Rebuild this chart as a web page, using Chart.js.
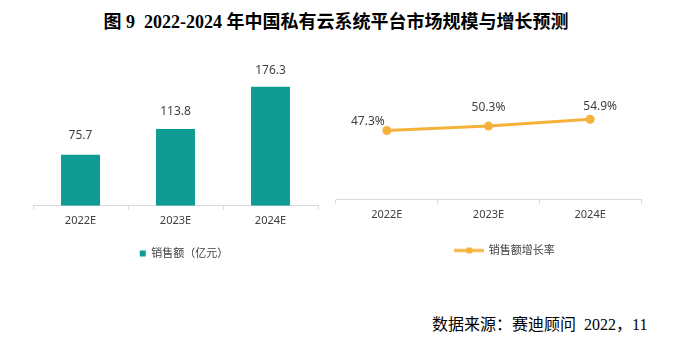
<!DOCTYPE html>
<html>
<head>
<meta charset="utf-8">
<script src="https://cdn.jsdelivr.net/npm/chart.js@4.4.0/dist/chart.umd.min.js"></script>
<style>
	body { margin: 0; background: #fff; width: 688px; height: 340px; position: relative; overflow: hidden; }
	#title { position: absolute; left: 0; top: 7px; width: 672px; text-align: center; font: bold 18px "Liberation Serif", "Noto Sans CJK SC"; color: #000; white-space: pre; }
	#source { position: absolute; left: 432px; top: 311px; font: 16px "Liberation Serif", "Noto Sans CJK SC"; color: #000; white-space: pre; }
	canvas { position: absolute; }
	#bar { left: 0; top: 43px; }
	#line { left: 330px; top: 40px; }
</style>
</head>
<body>
<div id="title">图 9  2022-2024 年中国私有云系统平台市场规模与增长预测</div>
<canvas id="bar" width="335" height="230"></canvas>
<canvas id="line" width="344" height="230"></canvas>
<div id="source">数据来源：赛迪顾问  2022，11</div>
<script>
const years = ['2022E', '2023E', '2024E'];
const sales = [75.7, 113.8, 176.3];
const growth = [47.3, 50.3, 54.9];

const teal = '#0E9C94';
const orange = '#F5B23A';
const font = '"Noto Sans", "Noto Sans CJK SC", sans-serif';

Chart.defaults.font.family = font;
Chart.defaults.font.size = 11;
Chart.defaults.color = '#404040';

// value labels drawn above each mark
const valueLabels = {
	id: 'valueLabels',
	afterDatasetsDraw: (chart, args, opts) => {
		const ctx = chart.ctx;
		const meta = chart.getDatasetMeta(0);
		const values = chart.data.datasets[0].data;
		ctx.save();
		ctx.font = `12px ${font}`;
		ctx.fillStyle = '#404040';
		ctx.textAlign = 'center';
		ctx.textBaseline = 'middle';
		meta.data.forEach((el, i) => {
			const off = opts.offsets[i];
			ctx.fillText(values[i].toFixed(1) + opts.suffix, el.x + off[0], el.y + off[1]);
		});
		ctx.restore();
	}
};

const xAxis = {
	offset: true,
	border: {color: '#d9d9d9'},
	grid: {offset: true, drawOnChartArea: false, tickLength: 4, color: '#d9d9d9'},
	ticks: {padding: 4, font: {size: 11}},
};

// invisible right-hand axis, only reserves space beside the plot
const spacer = width => ({
	position: 'right',
	display: true,
	grid: {display: false},
	border: {display: false},
	ticks: {display: false},
	afterFit: scale => { scale.width = width; },
});

new Chart(document.getElementById('bar'), {
	type: 'bar',
	data: {
		labels: years,
		datasets: [{
			label: '销售额（亿元）',
			data: sales,
			backgroundColor: teal,
			categoryPercentage: 1,
			barPercentage: 0.41,
		}],
	},
	plugins: [valueLabels],
	options: {
		responsive: false,
		animation: false,
		layout: {padding: {left: 33, right: 0, top: 0, bottom: 4}},
		scales: {
			x: xAxis,
			y: {display: false, min: 0, max: 241},
			gap: spacer(17),
		},
		plugins: {
			legend: {
				position: 'bottom',
				labels: {boxWidth: 6, boxHeight: 6, padding: 17, font: {size: 11}},
			},
			tooltip: {enabled: false},
			valueLabels: {suffix: '', offsets: [[0, -19], [0, -17], [0, -16]]},
		},
	},
});

// legend marker: short line with a small dot in the middle
const marker = document.createElement('canvas');
marker.width = 30;
marker.height = 8;
{
	const m = marker.getContext('2d');
	m.fillStyle = orange;
	m.fillRect(0, 2.5, 30, 3);
	m.beginPath();
	m.roundRect(12, 1, 6, 6, 1.5);
	m.fill();
}

new Chart(document.getElementById('line'), {
	type: 'line',
	data: {
		labels: years,
		datasets: [{
			label: '销售额增长率',
			data: growth,
			borderColor: orange,
			backgroundColor: orange,
			borderWidth: 3,
			pointRadius: 4.5,
			pointBackgroundColor: orange,
			pointBorderWidth: 0,
			pointStyle: 'circle',
		}],
	},
	plugins: [valueLabels],
	options: {
		responsive: false,
		animation: false,
		layout: {padding: {left: 6, right: 0, top: 0, bottom: 4}},
		scales: {
			x: xAxis,
			y: {display: false, min: 0, max: 106},
			gap: spacer(33),
		},
		plugins: {
			legend: {
				position: 'bottom',
				labels: {
					usePointStyle: true,
					pointStyleWidth: 28,
					padding: 20,
					font: {size: 11},
					generateLabels: chart => [{
						text: chart.data.datasets[0].label,
						pointStyle: marker,
						fillStyle: orange,
						strokeStyle: orange,
						lineWidth: 0,
						fontColor: '#404040',
						datasetIndex: 0,
					}],
				},
			},
			tooltip: {enabled: false},
			valueLabels: {suffix: '%', offsets: [[-19, -9], [0, -19], [10, -13]]},
		},
	},
});
</script>
</body>
</html>
